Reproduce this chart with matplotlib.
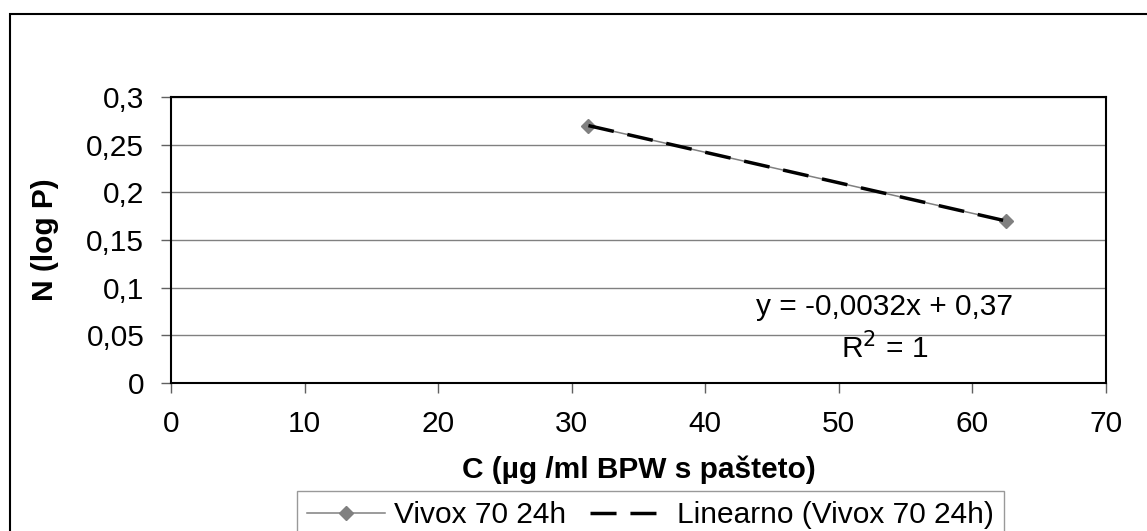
import matplotlib
matplotlib.use("Agg")
import matplotlib.pyplot as plt
from matplotlib.patches import Rectangle
from matplotlib.ticker import MultipleLocator, FuncFormatter

# --- podaci ---
conc = [31.25, 62.5]          # C (µg/ml BPW s pašteto)
logp = [0.27, 0.17]           # N (log P)
series_name = "Vivox 70 24h"
trend_name = "Linearno (Vivox 70 24h)"
slope, intercept = -0.0032, 0.37
eq_label = "y = -0,0032x + 0,37"
r2_label = "R$^2$ = 1"

W, H = 1147, 531
plt.rcParams["font.family"] = ["Liberation Sans", "DejaVu Sans"]
FS = 21.5

fig = plt.figure(figsize=(W / 100, H / 100), dpi=100)
fig.patch.set_facecolor("white")

# okvir grafa (desni i donji rub izvan slike)
fig.add_artist(Rectangle((10 / W, -0.2), 2.0, 1 - 14 / H + 0.2,
                         transform=fig.transFigure, fill=False,
                         edgecolor="black", lw=1.5))

left, right, top, bottom = 171, 1106, 97, 383
ax = fig.add_axes([left / W, 1 - bottom / H, (right - left) / W, (bottom - top) / H])

ax.set_xlim(0, 70)
ax.set_ylim(0, 0.3)
ax.xaxis.set_major_locator(MultipleLocator(10))
ax.yaxis.set_major_locator(MultipleLocator(0.05))
fmt = FuncFormatter(lambda v, p: f"{v:g}".replace(".", ","))
ax.xaxis.set_major_formatter(fmt)
ax.yaxis.set_major_formatter(fmt)

ax.grid(axis="y", color="#808080", lw=1.0)
ax.set_axisbelow(True)
for s in ax.spines.values():
    s.set_color("black")
    s.set_linewidth(1.5)

ax.tick_params(axis="both", direction="out", length=7.2, width=1.0,
               color="#606060", labelsize=FS)
ax.tick_params(axis="y", pad=12)
ax.tick_params(axis="x", pad=12.5)

# serija
ax.plot(conc, logp, color="#808080", lw=1.1, marker="D", markersize=7.5,
        markerfacecolor="#808080", markeredgecolor="#808080",
        label=series_name, zorder=3)

# linearni trend
tx = [min(conc), max(conc)]
ty = [slope * v + intercept for v in tx]
ax.plot(tx, ty, color="black", lw=2.5, dashes=(7.5, 4),
        label=trend_name, zorder=4)

ax.text(885 / W, 1 - 307 / H, eq_label, transform=fig.transFigure,
        ha="center", va="center", fontsize=FS)
ax.text(885 / W, 1 - 348 / H, r2_label, transform=fig.transFigure,
        ha="center", va="center", fontsize=FS)

fig.text((left + right) / 2 / W, 1 - 470 / H, "C (µg /ml BPW s pašteto)",
         ha="center", va="center", fontsize=FS, fontweight="bold")
fig.text(45 / W, 1 - 240 / H, "N (log P)", rotation=90,
         ha="center", va="center", fontsize=FS, fontweight="bold")

leg = fig.legend(loc="upper left", bbox_to_anchor=(297 / W, 1 - 491 / H),
                 bbox_transform=fig.transFigure, ncol=2, fontsize=FS,
                 frameon=True, fancybox=False, borderaxespad=0,
                 handlelength=2.6, handletextpad=0.3, columnspacing=0.8,
                 borderpad=0.35)
leg.get_frame().set_edgecolor("#808080")
leg.get_frame().set_linewidth(1.0)

fig.savefig("out.png", dpi=100, facecolor="white")
